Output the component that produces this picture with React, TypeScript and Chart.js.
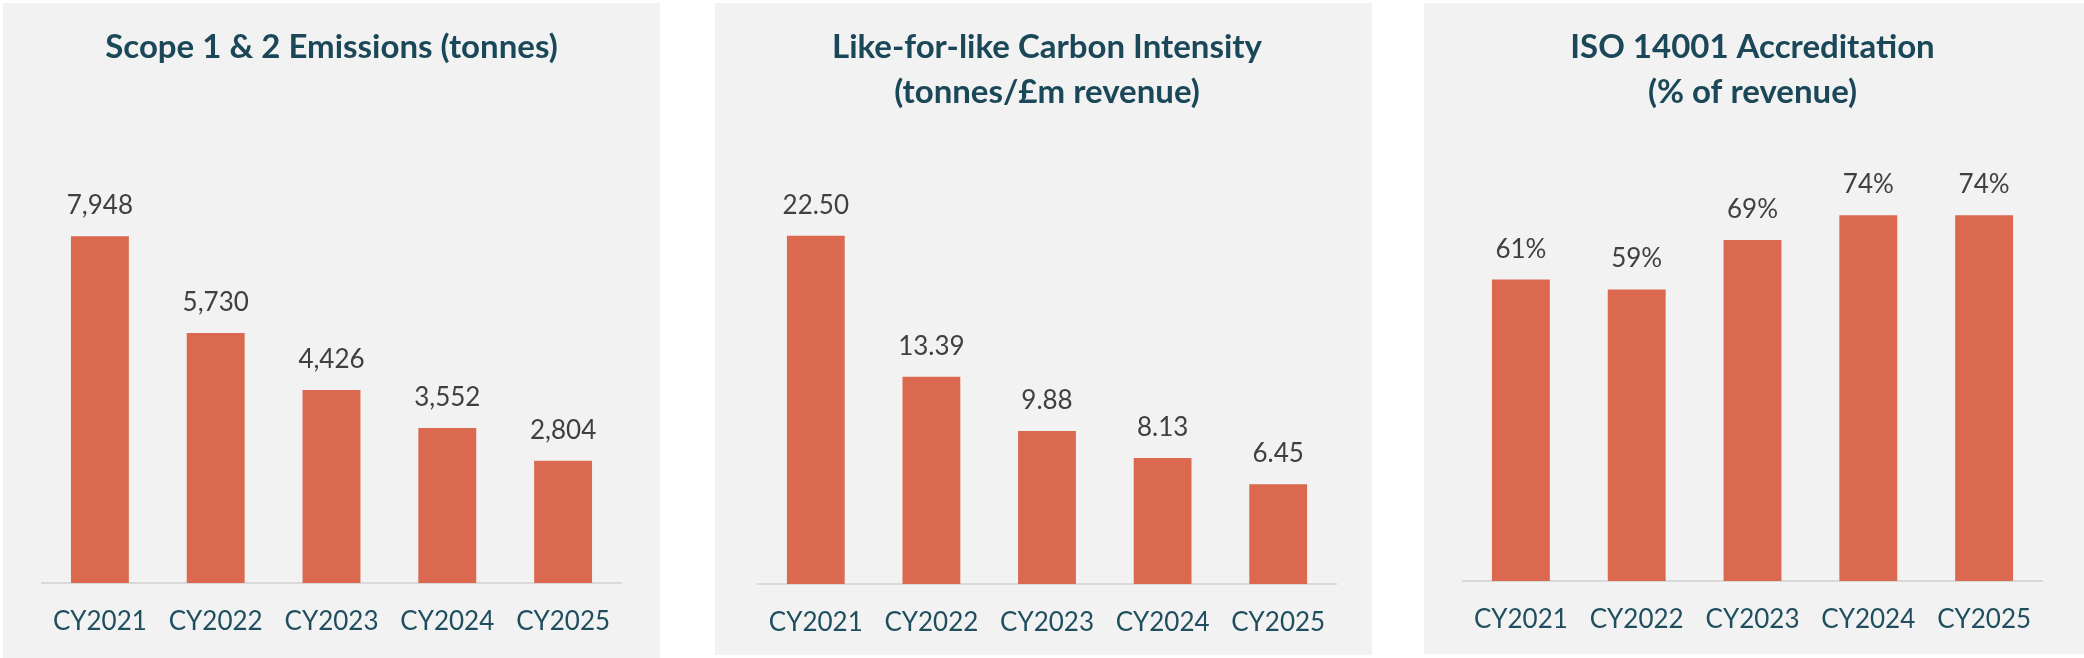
import React, { useEffect, useRef } from "react";
import { Chart, registerables } from "chart.js";

Chart.register(...registerables);

// ---------- data ----------
const categories = ["CY2021", "CY2022", "CY2023", "CY2024", "CY2025"];
const emissionsTonnes = [7948, 5730, 4426, 3552, 2804];
const carbonIntensity = [22.5, 13.39, 9.88, 8.13, 6.45];
const isoRevenueShare = [61, 59, 69, 74, 74];

const emissionsTitle = ["Scope 1 & 2 Emissions (tonnes)"];
const intensityTitle = ["Like-for-like Carbon Intensity", "(tonnes/£m revenue)"];
const isoTitle = ["ISO 14001 Accreditation", "(% of revenue)"];

// ---------- styling ----------
const BAR_COLOR = "#DA694F";
const PANEL_BG = "#F2F2F2";
const TITLE_COLOR = "#1B4858";
const TICK_COLOR = "#1F4E5F";
const LABEL_COLOR = "#404040";
const AXIS_COLOR = "#D9D9D9";
const FONT = "Lato, 'Open Sans', sans-serif";

type PanelCfg = {
  title: string[];
  values: number[];
  format: (v: number) => string;
  yMax: number;
  box: { left: number; top: number; width: number; height: number };
  pad: { left: number; right: number; bottom: number };
  titleBottom: number;
};

const panels: PanelCfg[] = [
  {
    title: emissionsTitle,
    values: emissionsTonnes,
    format: (v) => v.toLocaleString("en-US"),
    yMax: 10000,
    box: { left: 3, top: 3, width: 657, height: 655 },
    pad: { left: 39, right: 39, bottom: -3 },
    titleBottom: 76.7,
  },
  {
    title: intensityTitle,
    values: carbonIntensity,
    format: (v) => v.toFixed(2),
    yMax: 30,
    box: { left: 715, top: 3, width: 657, height: 652 },
    pad: { left: 43, right: 36, bottom: -7 },
    titleBottom: 4.5,
  },
  {
    title: isoTitle,
    values: isoRevenueShare,
    format: (v) => `${v}%`,
    yMax: 90,
    box: { left: 1424, top: 3, width: 660, height: 651 },
    pad: { left: 39, right: 42, bottom: -5 },
    titleBottom: 21.3,
  },
];

function makeValueLabelPlugin(format: (v: number) => string) {
  return {
    id: "valueLabels",
    afterDatasetsDraw(chart: any) {
      const { ctx } = chart;
      const meta = chart.getDatasetMeta(0);
      const data = chart.data.datasets[0].data as number[];
      ctx.save();
      ctx.font = `26px ${FONT}`;
      ctx.fillStyle = LABEL_COLOR;
      ctx.textAlign = "center";
      ctx.textBaseline = "alphabetic";
      meta.data.forEach((el: any, i: number) => {
        ctx.fillText(format(data[i]), el.x, el.y - 22);
      });
      ctx.restore();
    },
  };
}

function Panel({ cfg }: { cfg: PanelCfg }) {
  const ref = useRef<HTMLCanvasElement | null>(null);

  useEffect(() => {
    if (!ref.current) return;
    const titleSize = 33;
    const tickSize = 26;
    const chart = new Chart(ref.current, {
      type: "bar",
      data: {
        labels: categories,
        datasets: [
          {
            data: cfg.values,
            backgroundColor: BAR_COLOR,
            borderWidth: 0,
            categoryPercentage: 1,
            barPercentage: 0.5,
          },
        ],
      },
      options: {
        animation: false,
        responsive: false,
        devicePixelRatio: 1,
        layout: {
          padding: { top: 0, left: cfg.pad.left, right: cfg.pad.right, bottom: cfg.pad.bottom },
        },
        plugins: {
          legend: { display: false },
          tooltip: { enabled: false },
          title: {
            display: true,
            text: cfg.title,
            color: TITLE_COLOR,
            font: { family: FONT, weight: "bold", size: titleSize, lineHeight: 45 / titleSize },
            padding: { top: 22, bottom: cfg.titleBottom },
          },
        },
        scales: {
          x: {
            grid: { display: false, drawTicks: false },
            border: { display: true, color: AXIS_COLOR, width: 2 },
            ticks: {
              padding: 24,
              color: TICK_COLOR,
              font: { family: FONT, size: tickSize, lineHeight: 30 / tickSize },
              maxRotation: 0,
              autoSkip: false,
            },
          },
          y: {
            display: false,
            min: 0,
            max: cfg.yMax,
            grid: { display: false },
          },
        },
      },
      plugins: [makeValueLabelPlugin(cfg.format)],
    } as any);
    return () => chart.destroy();
  }, [cfg]);

  const { left, top, width, height } = cfg.box;
  return (
    <div style={{ position: "absolute", left, top, width, height, background: PANEL_BG }}>
      <canvas ref={ref} width={width} height={height} style={{ display: "block", width, height }} />
    </div>
  );
}

export default function App() {
  return (
    <div style={{ position: "absolute", left: 0, top: 0, width: 2084, height: 658, background: "#FFFFFF", overflow: "hidden" }}>
      {panels.map((p, i) => (
        <Panel key={i} cfg={p} />
      ))}
    </div>
  );
}
